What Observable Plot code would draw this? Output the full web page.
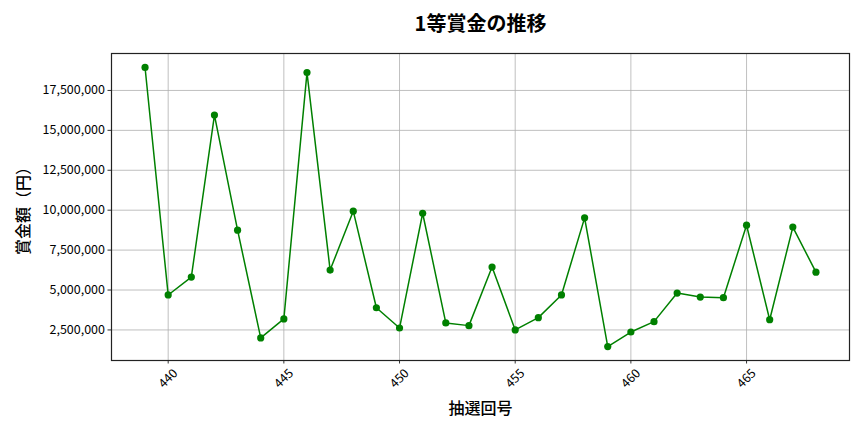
<!DOCTYPE html>
<html><head><meta charset="utf-8">
<script src="https://cdn.jsdelivr.net/npm/d3@7"></script>
<script src="https://cdn.jsdelivr.net/npm/@observablehq/plot@0.6"></script>
<style>body{margin:0;background:#fff;font-family:"Noto Sans CJK JP","Noto Sans",sans-serif;}</style>
</head><body><div id="chart"></div>
<script>
const draws = [439,440,441,442,443,444,445,446,447,448,449,450,451,452,453,454,455,456,457,458,459,460,461,462,463,464,465,466,467,468];
const prizes = [18940000,4690000,5810000,15960000,8750000,2000000,3190000,18620000,6250000,9940000,3890000,2620000,9810000,2940000,2770000,6440000,2500000,3270000,4690000,9520000,1460000,2370000,3020000,4810000,4560000,4520000,9060000,3140000,8940000,6120000];
const xTicks = [440,445,450,455,460,465];
const yTicks = [2500000,5000000,7500000,10000000,12500000,15000000,17500000];
const title = "1等賞金の推移";
const xLabel = "抽選回号";
const yLabel = "賞金額（円）";

const data = draws.map((d,i)=>({draw:d, prize:prizes[i]}));
const font = '"Noto Sans CJK JP", sans-serif';

const chart = Plot.plot({
  width: 864, height: 432,
  marginTop: 53, marginBottom: 72, marginLeft: 111, marginRight: 15,
  style: {fontFamily: font, fontSize: "12px", color: "#000", background: "#fff"},
  x: {domain: [437.55, 469.45]},
  y: {domain: [586000, 19814000]},
  marks: [
    Plot.gridX(xTicks, {stroke: "#b0b0b0", strokeOpacity: 1, strokeWidth: 0.8}),
    Plot.gridY(yTicks, {stroke: "#b0b0b0", strokeOpacity: 1, strokeWidth: 0.8}),
    Plot.axisY(yTicks, {tickFormat: d3.format(","), tickSize: 3.5, tickPadding: 3, stroke: "#333", fontSize: 12.5, label: null}),
    Plot.axisX(xTicks, {tickSize: 3.5, tickFormat: () => "", stroke: "#333", label: null}),
    Plot.text(xTicks, {x: d => d, text: d => String(d), frameAnchor: "bottom", lineAnchor: "middle", dy: 18, rotate: -45, textAnchor: "middle", fontSize: 12.5}),
    Plot.frame({stroke: "#222", strokeWidth: 1.2}),
    Plot.line(data, {x: "draw", y: "prize", stroke: "green", strokeWidth: 1.5}),
    Plot.dot(data, {x: "draw", y: "prize", fill: "green", r: 3.6}),
    Plot.text([title], {frameAnchor: "top", lineAnchor: "middle", textAnchor: "middle", dy: -29, fontSize: 20, fontWeight: "bold", text: d => d}),
    Plot.text([xLabel], {frameAnchor: "bottom", lineAnchor: "middle", textAnchor: "middle", dy: 48, fontSize: 16, fontWeight: 500, text: d => d}),
    Plot.text([yLabel], {frameAnchor: "left", lineAnchor: "middle", textAnchor: "middle", dx: -88, rotate: -90, fontSize: 16, fontWeight: 500, text: d => d})
  ]
});
document.getElementById("chart").appendChild(chart);
</script>
</body></html>
